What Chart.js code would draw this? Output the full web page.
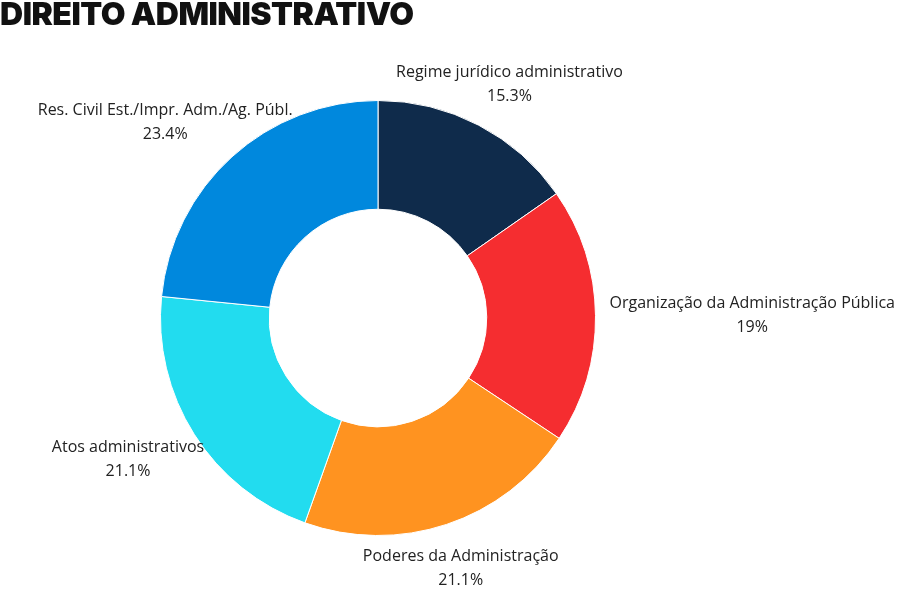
<!DOCTYPE html>
<html><head><meta charset="utf-8">
<script src="https://cdn.jsdelivr.net/npm/chart.js@4/dist/chart.umd.min.js"></script>
<style>html,body{margin:0;background:#fff;overflow:hidden}#w{position:relative;width:900px;height:600px}
h1{position:absolute;left:0;top:-6px;margin:0;font:900 32px Inter,sans-serif;color:#111;letter-spacing:-0.5px}</style>
</head><body><div id="w"><h1>DIREITO ADMINISTRATIVO</h1><canvas id="c"></canvas></div>
<script>
const categories=["Regime jurídico administrativo","Organização da Administração Pública","Poderes da Administração","Atos administrativos","Res. Civil Est./Impr. Adm./Ag. Públ."];
const values=[15.3,19,21.1,21.1,23.4];
const labelsPct=["15.3%","19%","21.1%","21.1%","23.4%"];
const colors=["#0f2b4b","#f52d30","#ff9320","#22dcef","#0088dd"];
const labelPlugin={id:"lbl",afterDraw(ch){
 const ctx=ch.ctx;const meta=ch.getDatasetMeta(0);
 ctx.save();ctx.font="16px 'Open Sans', sans-serif";ctx.fillStyle="#222";ctx.textAlign="center";ctx.textBaseline="middle";
 meta.data.forEach((a,i)=>{
  const mid=(a.startAngle+a.endAngle)/2;const r=a.outerRadius+14;
  const s=Math.cos(mid),c=Math.sin(mid);
  const ax=a.x+s*r, ay=a.y+c*r;
  const w=ctx.measureText(categories[i]).width, h=48;
  const cx=ax+s*w*0.5*Math.abs(s), cy=ay+c*(h/2+8);
  ctx.fillText(categories[i],cx,cy-12);ctx.fillText(labelsPct[i],cx,cy+12);
 });ctx.restore();}};
new Chart(document.getElementById("c"),{type:"doughnut",
 data:{labels:categories,datasets:[{data:values,backgroundColor:colors,borderColor:"#fff",borderWidth:1}]},
 options:{responsive:true,maintainAspectRatio:false,animation:false,cutout:"50%",
  layout:{padding:{top:100,bottom:64,left:160,right:304}},
  plugins:{legend:{display:false},tooltip:{enabled:false}}},
 plugins:[labelPlugin]});
</script></body></html>
